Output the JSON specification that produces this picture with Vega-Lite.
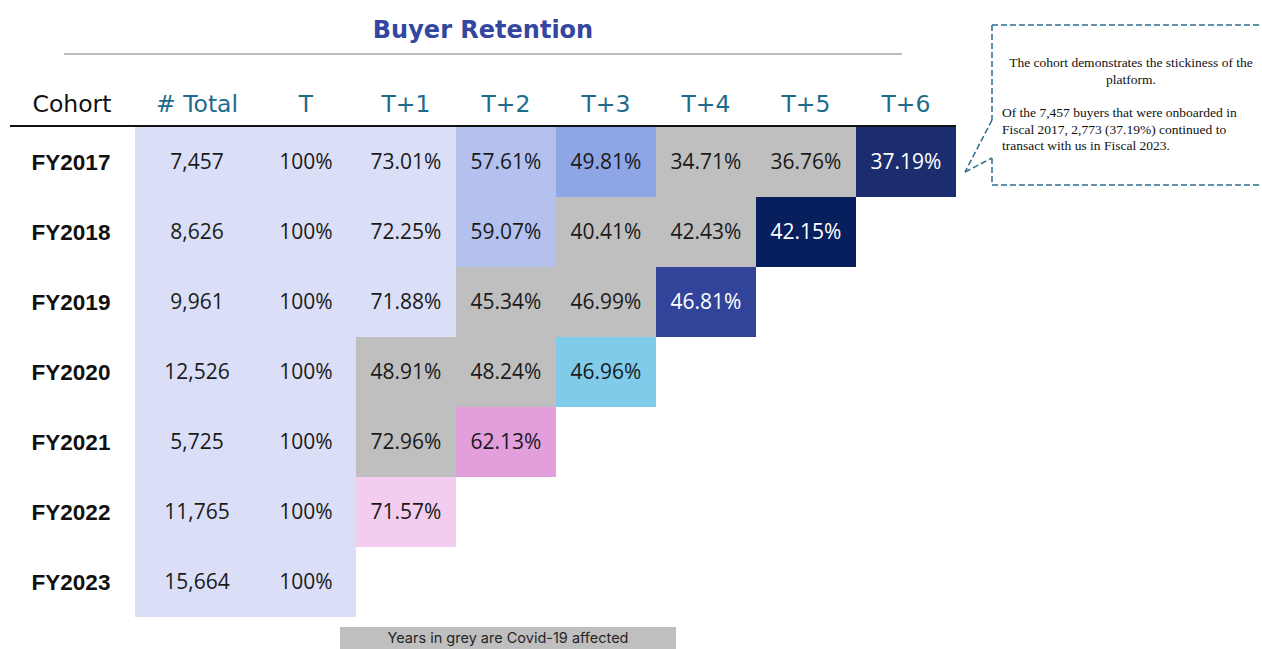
{
  "$schema": "https://vega.github.io/schema/vega-lite/v6.json",
  "autosize": {"type": "none"},
  "width": 900,
  "height": 490,
  "padding": {"left": 56, "top": 127, "right": 306, "bottom": 32},
  "background": "white",
  "config": {"view": {"stroke": null}},
  "title": {"text": "Buyer Retention", "anchor": "middle", "dx": -23, "offset": -19, "font": "DejaVu Sans", "fontSize": 24, "fontWeight": "bold", "color": "#3347a0"},
  "datasets": {
    "cells": [
      {"cohort": "FY2017", "period": "T", "retention": 1.0, "tone": "base"},
      {"cohort": "FY2017", "period": "T+1", "retention": 0.7301, "tone": "base"},
      {"cohort": "FY2017", "period": "T+2", "retention": 0.5761, "tone": "blue-1"},
      {"cohort": "FY2017", "period": "T+3", "retention": 0.4981, "tone": "blue-2"},
      {"cohort": "FY2017", "period": "T+4", "retention": 0.3471, "tone": "covid"},
      {"cohort": "FY2017", "period": "T+5", "retention": 0.3676, "tone": "covid"},
      {"cohort": "FY2017", "period": "T+6", "retention": 0.3719, "tone": "navy"},
      {"cohort": "FY2018", "period": "T", "retention": 1.0, "tone": "base"},
      {"cohort": "FY2018", "period": "T+1", "retention": 0.7225, "tone": "base"},
      {"cohort": "FY2018", "period": "T+2", "retention": 0.5907, "tone": "blue-1"},
      {"cohort": "FY2018", "period": "T+3", "retention": 0.4041, "tone": "covid"},
      {"cohort": "FY2018", "period": "T+4", "retention": 0.4243, "tone": "covid"},
      {"cohort": "FY2018", "period": "T+5", "retention": 0.4215, "tone": "navy-dark"},
      {"cohort": "FY2019", "period": "T", "retention": 1.0, "tone": "base"},
      {"cohort": "FY2019", "period": "T+1", "retention": 0.7188, "tone": "base"},
      {"cohort": "FY2019", "period": "T+2", "retention": 0.4534, "tone": "covid"},
      {"cohort": "FY2019", "period": "T+3", "retention": 0.4699, "tone": "covid"},
      {"cohort": "FY2019", "period": "T+4", "retention": 0.4681, "tone": "indigo"},
      {"cohort": "FY2020", "period": "T", "retention": 1.0, "tone": "base"},
      {"cohort": "FY2020", "period": "T+1", "retention": 0.4891, "tone": "covid"},
      {"cohort": "FY2020", "period": "T+2", "retention": 0.4824, "tone": "covid"},
      {"cohort": "FY2020", "period": "T+3", "retention": 0.4696, "tone": "sky"},
      {"cohort": "FY2021", "period": "T", "retention": 1.0, "tone": "base"},
      {"cohort": "FY2021", "period": "T+1", "retention": 0.7296, "tone": "covid"},
      {"cohort": "FY2021", "period": "T+2", "retention": 0.6213, "tone": "orchid"},
      {"cohort": "FY2022", "period": "T", "retention": 1.0, "tone": "base"},
      {"cohort": "FY2022", "period": "T+1", "retention": 0.7157, "tone": "pink"},
      {"cohort": "FY2023", "period": "T", "retention": 1.0, "tone": "base"}
    ],
    "cohorts": [
      {"cohort": "FY2017", "total": 7457},
      {"cohort": "FY2018", "total": 8626},
      {"cohort": "FY2019", "total": 9961},
      {"cohort": "FY2020", "total": 12526},
      {"cohort": "FY2021", "total": 5725},
      {"cohort": "FY2022", "total": 11765},
      {"cohort": "FY2023", "total": 15664}
    ],
    "blank": [{}]
  },
  "layer": [
    {
      "data": {"name": "cells"},
      "mark": {"type": "rect"},
      "encoding": {
        "x": {"field": "period", "type": "nominal",
          "scale": {"domain": ["Cohort", "# Total", "T", "T+1", "T+2", "T+3", "T+4", "T+5", "T+6"], "paddingInner": 0, "paddingOuter": 0},
          "axis": {"orient": "top", "title": null, "domain": false, "ticks": false, "tickSize": 0, "labelPadding": 16, "labelBaseline": "alphabetic", "labelAngle": 0,
            "labelFont": "DejaVu Sans", "labelFontSize": 23.5,
            "labelColor": {"condition": {"test": "datum.value === 'Cohort'", "value": "#111111"}, "value": "#1f6b8b"},
            "labelOffset": {"condition": [{"test": "datum.value === 'Cohort'", "value": -34}, {"test": "datum.value === '# Total'", "value": -9}], "value": 0}}},
        "y": {"field": "cohort", "type": "nominal",
          "scale": {"domain": ["FY2017", "FY2018", "FY2019", "FY2020", "FY2021", "FY2022", "FY2023"], "paddingInner": 0, "paddingOuter": 0},
          "axis": null},
        "color": {"field": "tone", "type": "nominal", "legend": null,
          "scale": {"domain": ["base", "blue-1", "blue-2", "covid", "navy", "navy-dark", "indigo", "sky", "orchid", "pink"],
                    "range": ["#dadff7", "#b4c1ee", "#8ea5e6", "#bfbfbf", "#1b2d6e", "#071f5c", "#32449a", "#80cbea", "#e39edc", "#f2cdf0"]}}
      }
    },
    {
      "data": {"name": "cohorts"},
      "mark": {"type": "rect", "color": "#dadff7"},
      "encoding": {
        "x": {"datum": "Cohort", "type": "nominal", "bandPosition": 0.79},
        "x2": {"datum": "T", "bandPosition": 0},
        "y": {"field": "cohort", "type": "nominal"}
      }
    },
    {
      "data": {"name": "cohorts"},
      "mark": {"type": "text", "font": "Open Sans", "fontSize": 21, "color": "#1a1a1a", "dx": -9, "dy": 1, "baseline": "middle"},
      "encoding": {
        "x": {"datum": "# Total", "type": "nominal"},
        "y": {"field": "cohort", "type": "nominal"},
        "text": {"field": "total", "type": "quantitative", "format": ","}
      }
    },
    {
      "data": {"name": "cohorts"},
      "mark": {"type": "text", "font": "Liberation Sans", "fontWeight": "bold", "fontSize": 22.5, "color": "#111111", "dx": -35, "dy": 1, "baseline": "middle"},
      "encoding": {
        "x": {"datum": "Cohort", "type": "nominal"},
        "y": {"field": "cohort", "type": "nominal"},
        "text": {"field": "cohort", "type": "nominal"}
      }
    },
    {
      "data": {"name": "cells"},
      "mark": {"type": "text", "font": "Open Sans", "fontSize": 21, "baseline": "middle", "dy": 1},
      "encoding": {
        "x": {"field": "period", "type": "nominal"},
        "y": {"field": "cohort", "type": "nominal"},
        "text": {"field": "retention", "type": "quantitative", "format": ".2~%"},
        "color": {"condition": {"test": "datum.tone === 'navy' || datum.tone === 'navy-dark' || datum.tone === 'indigo'", "value": "#ffffff"}, "value": "#1a1a1a"}
      }
    },
    {
      "data": {"name": "blank"},
      "layer": [
        {
          "mark": {"type": "rule", "color": "#111111", "strokeWidth": 2, "xOffset": -46, "yOffset": -1},
          "encoding": {
            "x": {"datum": "Cohort", "type": "nominal", "bandPosition": 0},
            "x2": {"datum": "T+6", "bandPosition": 1},
            "y": {"datum": "FY2017", "type": "nominal", "bandPosition": 0}
          }
        },
        {
          "mark": {"type": "rule", "color": "#a6a6a6", "strokeWidth": 1.5, "yOffset": -73},
          "encoding": {
            "x": {"datum": "Cohort", "type": "nominal", "bandPosition": 0.08},
            "x2": {"datum": "T+6", "bandPosition": 0.46},
            "y": {"datum": "FY2017", "type": "nominal", "bandPosition": 0}
          }
        },
        {
          "mark": {"type": "rect", "color": "#bfbfbf", "xOffset": -16, "yOffset": 10, "y2Offset": 34},
          "encoding": {
            "x": {"datum": "T+1", "type": "nominal", "bandPosition": 0},
            "x2": {"datum": "T+4", "bandPosition": 0.2},
            "y": {"datum": "FY2023", "type": "nominal", "bandPosition": 1},
            "y2": {"datum": "FY2023", "bandPosition": 1}
          }
        },
        {
          "mark": {"type": "text", "font": "Inter", "fontSize": 14.5, "color": "#262626", "baseline": "middle", "dy": 22},
          "encoding": {
            "x": {"datum": "T+2", "type": "nominal", "bandPosition": 0.52},
            "y": {"datum": "FY2023", "type": "nominal", "bandPosition": 1},
            "text": {"value": "Years in grey are Covid-19 affected"}
          }
        },
        {
          "mark": {"type": "rule", "color": "#2c6e8f", "strokeWidth": 1.5, "strokeDash": [6, 3], "xOffset": 36, "x2Offset": 310, "yOffset": -102},
          "encoding": {
            "x": {"datum": "T+6", "type": "nominal", "bandPosition": 1},
            "x2": {"datum": "T+6", "bandPosition": 1},
            "y": {"datum": "FY2017", "type": "nominal", "bandPosition": 0}
          }
        },
        {
          "mark": {"type": "rule", "color": "#2c6e8f", "strokeWidth": 1.5, "strokeDash": [6, 3], "xOffset": 36, "yOffset": -102, "y2Offset": -7},
          "encoding": {
            "x": {"datum": "T+6", "type": "nominal", "bandPosition": 1},
            "y": {"datum": "FY2017", "type": "nominal", "bandPosition": 0},
            "y2": {"datum": "FY2017", "bandPosition": 0}
          }
        },
        {
          "mark": {"type": "rule", "color": "#2c6e8f", "strokeWidth": 1.5, "strokeDash": [6, 3], "xOffset": 36, "x2Offset": 9, "yOffset": -7, "y2Offset": 45},
          "encoding": {
            "x": {"datum": "T+6", "type": "nominal", "bandPosition": 1},
            "x2": {"datum": "T+6", "bandPosition": 1},
            "y": {"datum": "FY2017", "type": "nominal", "bandPosition": 0},
            "y2": {"datum": "FY2017", "bandPosition": 0}
          }
        },
        {
          "mark": {"type": "rule", "color": "#2c6e8f", "strokeWidth": 1.5, "strokeDash": [6, 3], "xOffset": 9, "x2Offset": 36, "yOffset": 45, "y2Offset": 31},
          "encoding": {
            "x": {"datum": "T+6", "type": "nominal", "bandPosition": 1},
            "x2": {"datum": "T+6", "bandPosition": 1},
            "y": {"datum": "FY2017", "type": "nominal", "bandPosition": 0},
            "y2": {"datum": "FY2017", "bandPosition": 0}
          }
        },
        {
          "mark": {"type": "rule", "color": "#2c6e8f", "strokeWidth": 1.5, "strokeDash": [6, 3], "xOffset": 36, "yOffset": 31, "y2Offset": 58},
          "encoding": {
            "x": {"datum": "T+6", "type": "nominal", "bandPosition": 1},
            "y": {"datum": "FY2017", "type": "nominal", "bandPosition": 0},
            "y2": {"datum": "FY2017", "bandPosition": 0}
          }
        },
        {
          "mark": {"type": "rule", "color": "#2c6e8f", "strokeWidth": 1.5, "strokeDash": [6, 3], "xOffset": 36, "x2Offset": 310, "yOffset": 58},
          "encoding": {
            "x": {"datum": "T+6", "type": "nominal", "bandPosition": 1},
            "x2": {"datum": "T+6", "bandPosition": 1},
            "y": {"datum": "FY2017", "type": "nominal", "bandPosition": 0}
          }
        },
        {
          "mark": {"type": "text", "font": "Liberation Serif", "fontSize": 13.5, "color": "#111111", "align": "center", "baseline": "top", "lineHeight": 17, "dx": 175, "dy": -71},
          "encoding": {
            "x": {"datum": "T+6", "type": "nominal", "bandPosition": 1},
            "y": {"datum": "FY2017", "type": "nominal", "bandPosition": 0},
            "text": {"value": ["The cohort demonstrates the stickiness of the", "platform."]}
          }
        },
        {
          "mark": {"type": "text", "font": "Liberation Serif", "fontSize": 13.5, "color": "#111111", "align": "left", "baseline": "top", "lineHeight": 16.5, "dx": 46, "dy": -21},
          "encoding": {
            "x": {"datum": "T+6", "type": "nominal", "bandPosition": 1},
            "y": {"datum": "FY2017", "type": "nominal", "bandPosition": 0},
            "text": {"value": ["Of the 7,457 buyers that were onboarded in", "Fiscal 2017, 2,773 (37.19%) continued to", "transact with us in Fiscal 2023."]}
          }
        }
      ]
    }
  ]
}
